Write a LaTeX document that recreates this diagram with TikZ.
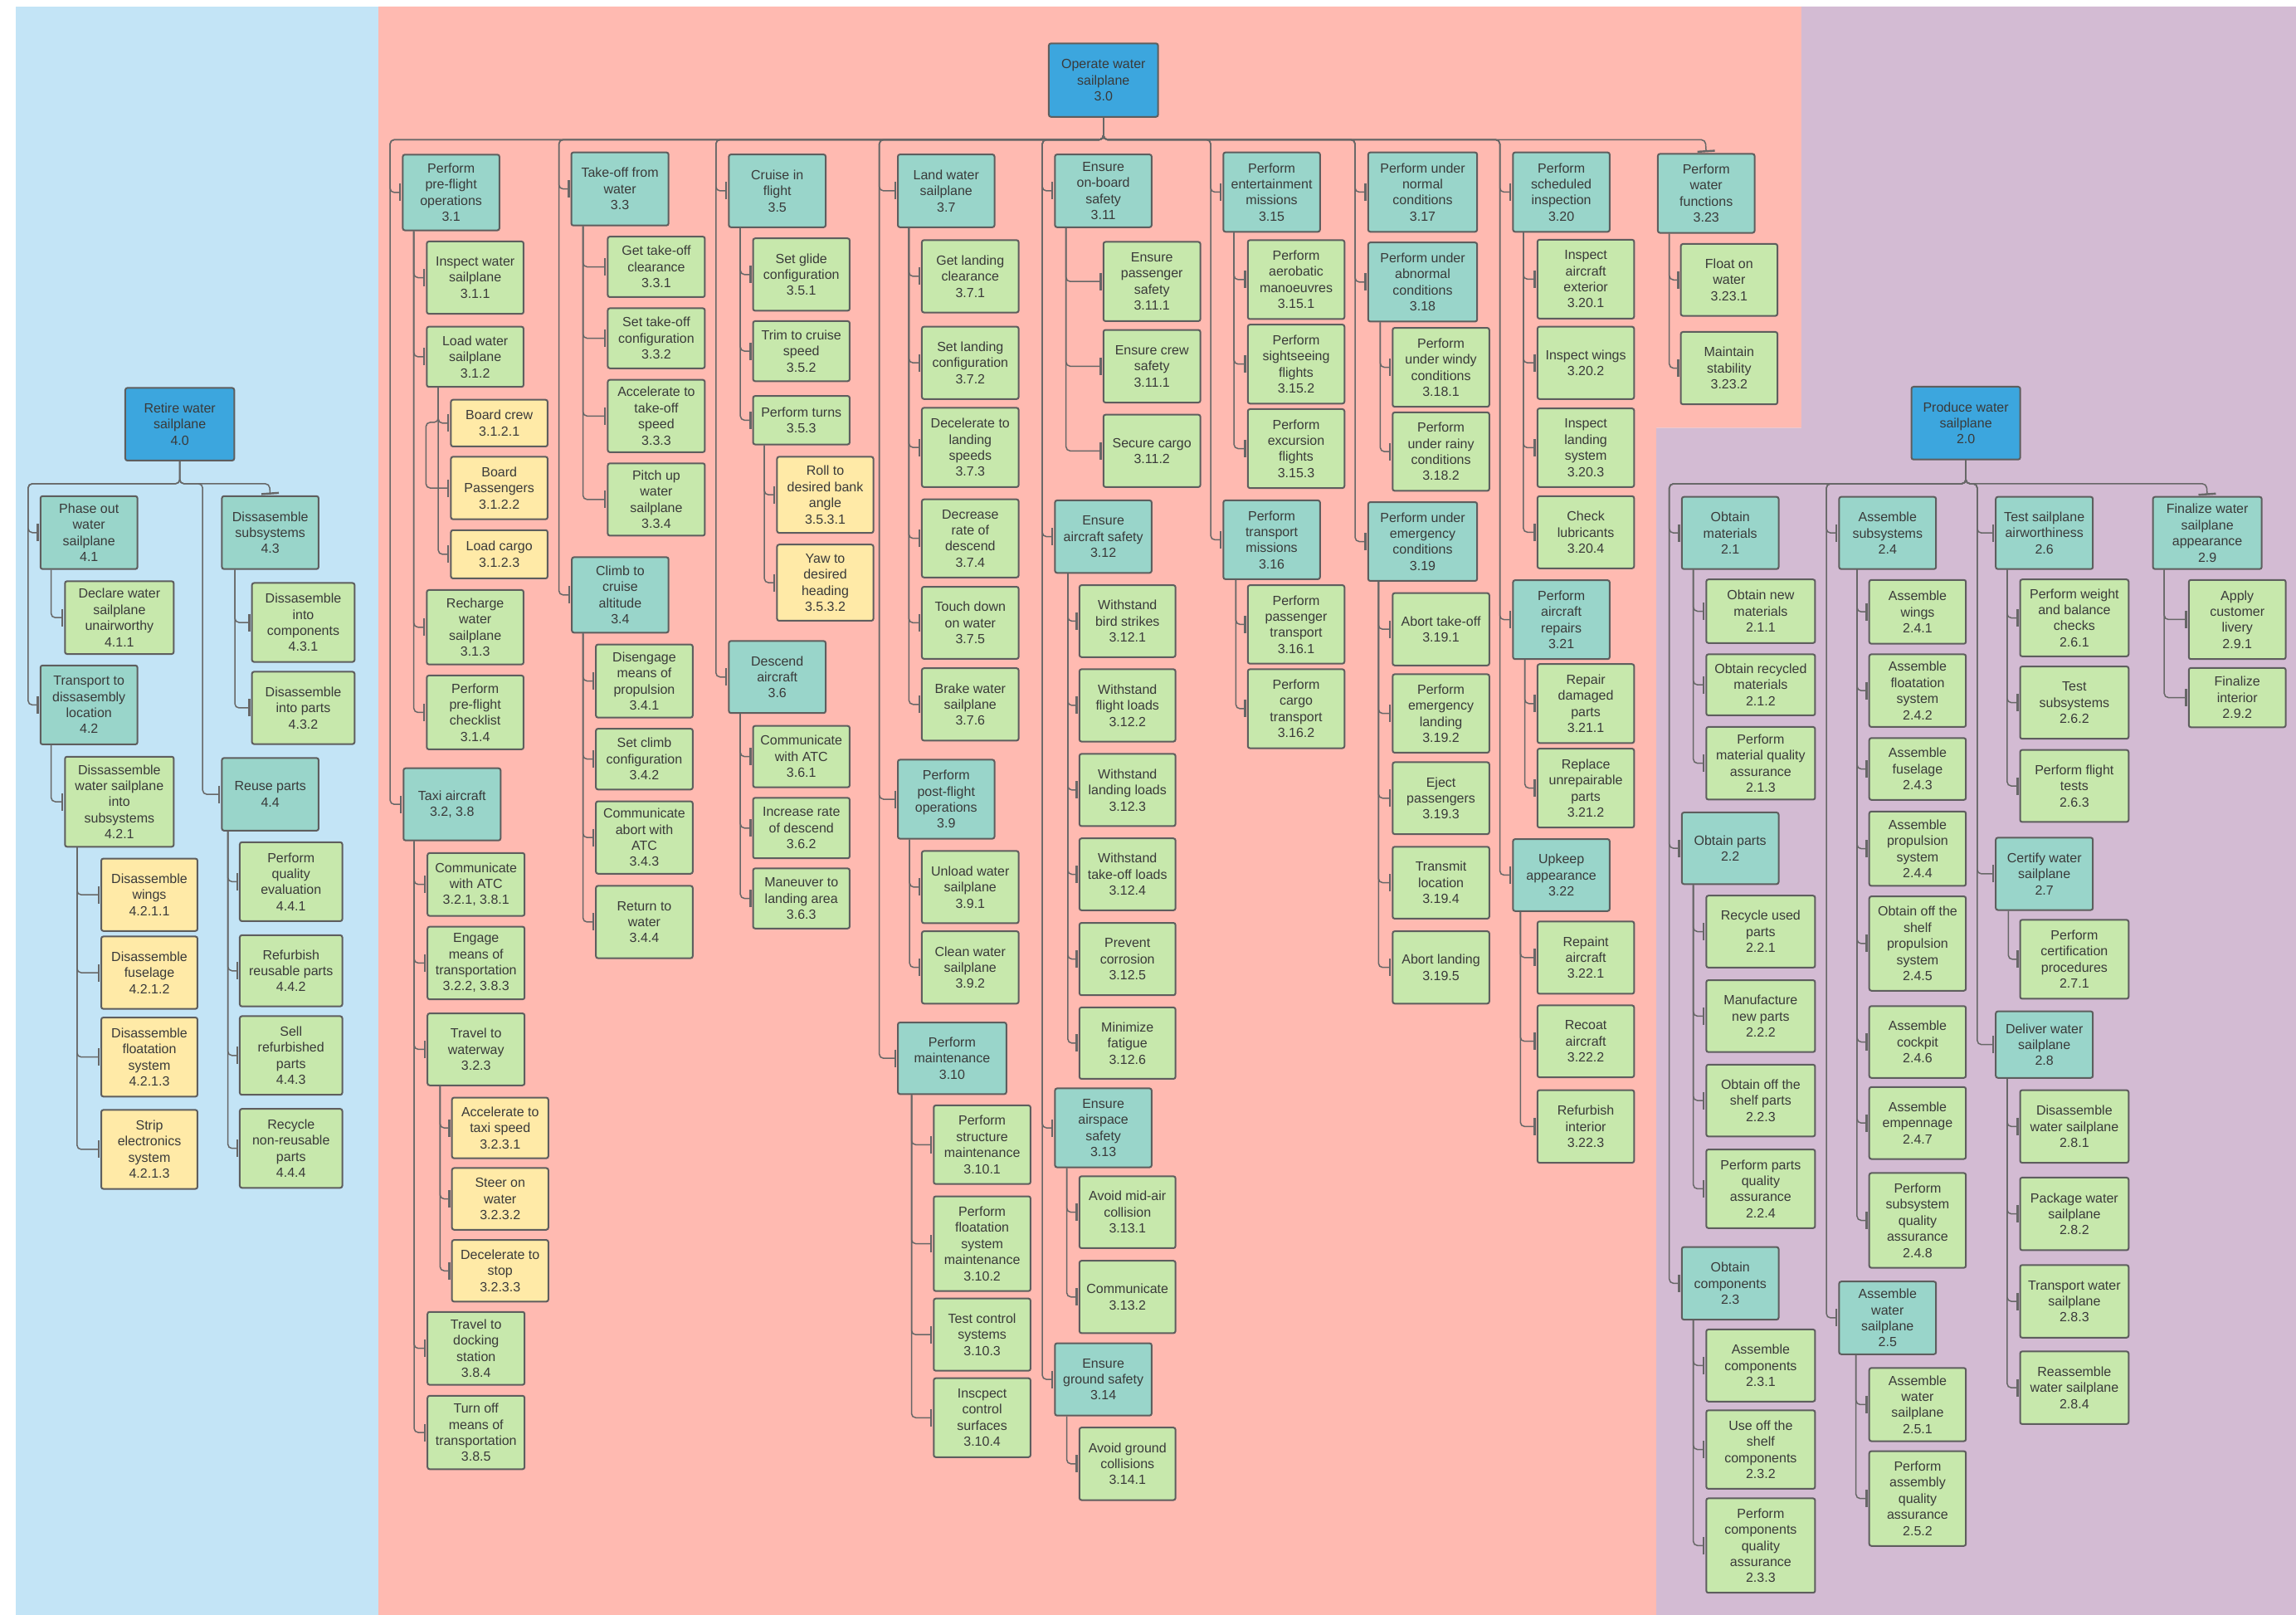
\documentclass[tikz,border=0pt]{standalone}
\usepackage{fontspec}
\setmainfont{Liberation Sans}
\usetikzlibrary{arrows.meta}
\definecolor{bgb}{HTML}{C3E4F6}
\definecolor{bgr}{HTML}{FFBAB1}
\definecolor{bgp}{HTML}{D3BBD3}
\definecolor{rootc}{HTML}{3CA6DE}
\definecolor{tealc}{HTML}{99D5CA}
\definecolor{grnc}{HTML}{C7E8AC}
\definecolor{yelc}{HTML}{FFEAA7}
\definecolor{bord}{HTML}{5E5E5E}
\definecolor{txt}{HTML}{3A3A3A}
\definecolor{connc}{HTML}{676767}
\tikzset{
  box/.style={draw=bord, line width=2pt, rounded corners=2.5pt, inner sep=0pt, align=center, text=txt, font=\fontsize{16}{19.4}\selectfont},
  rt/.style={box, fill=rootc},
  tl/.style={box, fill=tealc},
  gr/.style={box, fill=grnc},
  yl/.style={box, fill=yelc},
  conn/.style={draw=connc, line width=1.5pt, rounded corners=5pt, shorten >=1pt, -{Bar[width=21pt, line width=2.4pt]}},
}
\newcommand\wbox[7]{\pgfmathsetmacro\wbw{(#5-#3)*1.7647}\pgfmathsetmacro\wbh{(#6-#4)*1.7647}\node[#1, anchor=north west, minimum width=\wbw pt, minimum height=\wbh pt] (#2) at (#3,#4) {#7};}
\newcommand\kids[3]{\foreach \cn in {#3}{\draw[conn] ([xshift=#2*1.7647pt]#1.south west) |- (\cn.west);}}
\newcommand\lvl[4]{\foreach \cn in {#4}{\draw[conn] (#1.south) |- (#2,#3) |- (\cn.west);}}
\begin{document}
\begin{tikzpicture}[x=1.7647pt, y=-1.7647pt]
\useasboundingbox (0,0) rectangle (1568,1102.7);
\fill[white] (0,0) rectangle (1568,1102.7);
% regions
\fill[bgb] (10.9,4.5) rectangle (258.5,1102.7);
\fill[bgr] (258.5,4.5) -- (1230.2,4.5) -- (1230.2,292.2) -- (1131.1,292.2) -- (1131.1,1102.7) -- (258.5,1102.7) -- cycle;
\fill[bgp] (1230.2,4.5) -- (1568,4.5) -- (1568,1102.7) -- (1131.1,1102.7) -- (1131.1,292.2) -- (1230.2,292.2) -- cycle;

% ===== 4.0 =====
\wbox{rt}{r4}{85}{264.3}{159.4}{313.9}{Retire water\\sailplane\\4.0}
\wbox{tl}{n4_1}{27.1}{338.2}{93.3}{388}{Phase out\\water\\sailplane\\4.1}
\wbox{gr}{n4_1_1}{43.8}{396.3}{118.1}{446}{Declare water\\sailplane\\unairworthy\\4.1.1}
\wbox{tl}{n4_2}{27.1}{453.8}{93.3}{507.7}{Transport to\\dissasembly\\location\\4.2}
\wbox{gr}{n4_2_1}{43.8}{516.1}{118.1}{577.6}{Dissassemble\\water sailplane\\into\\subsystems\\4.2.1}
\wbox{yl}{n4_2_1_1}{68.6}{585.7}{134.3}{635.1}{Disassemble\\wings\\4.2.1.1}
\wbox{yl}{n4_2_1_2}{68.6}{638.9}{134.3}{688.3}{Disassemble\\fuselage\\4.2.1.2}
\wbox{yl}{n4_2_1_3}{68.6}{694.2}{134.3}{748.2}{Disassemble\\floatation\\system\\4.2.1.3}
\wbox{yl}{n4_2_1_4}{68.6}{757.3}{134.3}{811.2}{Strip\\electronics\\system\\4.2.1.3}
\wbox{tl}{n4_3}{151}{338.2}{217}{388}{Dissasemble\\subsystems\\4.3}
\wbox{gr}{n4_3_1}{171.5}{397.5}{241.6}{451.4}{Dissasemble\\into\\components\\4.3.1}
\wbox{gr}{n4_3_2}{171.5}{458.1}{241.6}{507.5}{Disassemble\\into parts\\4.3.2}
\wbox{tl}{n4_4}{151}{517}{217}{566.6}{Reuse parts\\4.4}
\wbox{gr}{n4_4_1}{163.2}{574.5}{233.2}{628.4}{Perform\\quality\\evaluation\\4.4.1}
\wbox{gr}{n4_4_2}{163.2}{638}{233.2}{686.6}{Refurbish\\reusable parts\\4.4.2}
\wbox{gr}{n4_4_3}{163.2}{693.3}{233.2}{747}{Sell\\refurbished\\parts\\4.4.3}
\wbox{gr}{n4_4_4}{163.2}{756.6}{233.2}{810.5}{Recycle\\non-reusable\\parts\\4.4.4}

% ===== 3.0 =====
\wbox{rt}{r3}{715.7}{29.1}{790.3}{79.2}{Operate water\\sailplane\\3.0}
% col 1
\wbox{tl}{n3_1}{274.5}{105}{340.5}{156.7}{Perform\\pre-flight\\operations\\3.1}
\wbox{gr}{n3_1_1}{290.9}{164.3}{357}{213.7}{Inspect water\\sailplane\\3.1.1}
\wbox{gr}{n3_1_2}{290.9}{222.5}{357}{263.6}{Load water\\sailplane\\3.1.2}
\wbox{yl}{n3_1_2_1}{307.4}{272.4}{373.4}{304.3}{Board crew\\3.1.2.1}
\wbox{yl}{n3_1_2_2}{307.4}{311.3}{373.4}{354}{Board\\Passengers\\3.1.2.2}
\wbox{yl}{n3_1_2_3}{307.4}{361.4}{373.4}{394.4}{Load cargo\\3.1.2.3}
\wbox{gr}{n3_1_3}{290.9}{402.3}{357}{453.1}{Recharge\\water\\sailplane\\3.1.3}
\wbox{gr}{n3_1_4}{290.9}{460.7}{357}{511.1}{Perform\\pre-flight\\checklist\\3.1.4}
\wbox{tl}{n3_2}{275}{524}{341.3}{573.3}{Taxi aircraft\\3.2, 3.8}
\wbox{gr}{n3_2_1}{291.4}{581.9}{357.7}{624.8}{Communicate\\with ATC\\3.2.1, 3.8.1}
\wbox{gr}{n3_2_2}{291.4}{632.2}{357.7}{681.8}{Engage\\means of\\transportation\\3.2.2, 3.8.3}
\wbox{gr}{n3_2_3}{291.4}{691.4}{357.7}{740.5}{Travel to\\waterway\\3.2.3}
\wbox{yl}{n3_2_3_1}{308.1}{748.9}{373.9}{790.3}{Accelerate to\\taxi speed\\3.2.3.1}
\wbox{yl}{n3_2_3_2}{308.1}{797}{373.9}{839.1}{Steer on\\water\\3.2.3.2}
\wbox{yl}{n3_2_3_3}{308.1}{846.1}{373.9}{888.2}{Decelerate to\\stop\\3.2.3.3}
\wbox{gr}{n3_8_4}{291.4}{895.2}{357.7}{945}{Travel to\\docking\\station\\3.8.4}
\wbox{gr}{n3_8_5}{291.4}{952.5}{357.7}{1002.6}{Turn off\\means of\\transportation\\3.8.5}
% col 2
\wbox{tl}{n3_3}{389.6}{103.5}{456}{153.4}{Take-off from\\water\\3.3}
\wbox{gr}{n3_3_1}{414.5}{161}{480.8}{202.3}{Get take-off\\clearance\\3.3.1}
\wbox{gr}{n3_3_2}{414.5}{209.9}{480.8}{250.9}{Set take-off\\configuration\\3.3.2}
\wbox{gr}{n3_3_3}{414.5}{258.8}{480.8}{308.2}{Accelerate to\\take-off\\speed\\3.3.3}
\wbox{gr}{n3_3_4}{414.5}{315.8}{480.8}{365.2}{Pitch up\\water\\sailplane\\3.3.4}
\wbox{tl}{n3_4}{390}{379.9}{456}{431.4}{Climb to\\cruise\\altitude\\3.4}
\wbox{gr}{n3_4_1}{406.4}{439.5}{472.5}{489.4}{Disengage\\means of\\propulsion\\3.4.1}
\wbox{gr}{n3_4_2}{406.4}{497}{472.5}{538.5}{Set climb\\configuration\\3.4.2}
\wbox{gr}{n3_4_3}{406.4}{546.6}{472.5}{596}{Communicate\\abort with\\ATC\\3.4.3}
\wbox{gr}{n3_4_4}{406.4}{604.3}{472.5}{653.7}{Return to\\water\\3.4.4}
% col 3
\wbox{tl}{n3_5}{497.2}{104.9}{563.3}{154.6}{Cruise in\\flight\\3.5}
\wbox{gr}{n3_5_1}{513.7}{162.2}{579.7}{211.6}{Set glide\\configuration\\3.5.1}
\wbox{gr}{n3_5_2}{513.7}{218.7}{579.7}{259.7}{Trim to cruise\\speed\\3.5.2}
\wbox{gr}{n3_5_3}{513.7}{269.8}{579.7}{302.9}{Perform turns\\3.5.3}
\wbox{yl}{n3_5_3_1}{530.1}{311.3}{595.9}{363.3}{Roll to\\desired bank\\angle\\3.5.3.1}
\wbox{yl}{n3_5_3_2}{530.1}{371.3}{595.9}{423.3}{Yaw to\\desired\\heading\\3.5.3.2}
\wbox{tl}{n3_6}{497.2}{437.1}{563.3}{486.3}{Descend\\aircraft\\3.6}
\wbox{gr}{n3_6_1}{513.7}{495.1}{579.7}{537}{Communicate\\with ATC\\3.6.1}
\wbox{gr}{n3_6_2}{513.7}{544.2}{579.7}{585.5}{Increase rate\\of descend\\3.6.2}
\wbox{gr}{n3_6_3}{513.7}{592.4}{579.7}{633.4}{Maneuver to\\landing area\\3.6.3}
% col 4
\wbox{tl}{n3_7}{612.6}{104.9}{678.6}{154.6}{Land water\\sailplane\\3.7}
\wbox{gr}{n3_7_1}{629}{163.4}{695.1}{212.8}{Get landing\\clearance\\3.7.1}
\wbox{gr}{n3_7_2}{629}{222.5}{695.1}{271.9}{Set landing\\configuration\\3.7.2}
\wbox{gr}{n3_7_3}{629}{277.9}{695.1}{332}{Decelerate to\\landing\\speeds\\3.7.3}
\wbox{gr}{n3_7_4}{629}{340.4}{695.1}{393.7}{Decrease\\rate of\\descend\\3.7.4}
\wbox{gr}{n3_7_5}{629}{400.1}{695.1}{449.3}{Touch down\\on water\\3.7.5}
\wbox{gr}{n3_7_6}{629}{455.7}{695.1}{505.1}{Brake water\\sailplane\\3.7.6}
\wbox{tl}{n3_9}{612.6}{518.2}{678.6}{572.1}{Perform\\post-flight\\operations\\3.9}
\wbox{gr}{n3_9_1}{629}{580.5}{695.1}{629.8}{Unload water\\sailplane\\3.9.1}
\wbox{gr}{n3_9_2}{629}{635.3}{695.1}{684.7}{Clean water\\sailplane\\3.9.2}
\wbox{tl}{n3_10}{612.6}{697.6}{686.7}{746.5}{Perform\\maintenance\\3.10}
\wbox{gr}{n3_10_1}{637.1}{754.2}{703.2}{807.9}{Perform\\structure\\maintenance\\3.10.1}
\wbox{gr}{n3_10_2}{637.1}{816.3}{703.2}{881}{Perform\\floatation\\system\\maintenance\\3.10.2}
\wbox{gr}{n3_10_3}{637.1}{886.1}{703.2}{935.4}{Test control\\systems\\3.10.3}
\wbox{gr}{n3_10_4}{637.1}{940.5}{703.2}{994.4}{Inscpect\\control\\surfaces\\3.10.4}
% col 5
\wbox{tl}{n3_11}{719.9}{104.9}{785.9}{154.6}{Ensure\\on-board\\safety\\3.11}
\wbox{gr}{n3_11_1}{753}{164.6}{819.2}{218.7}{Ensure\\passenger\\safety\\3.11.1}
\wbox{gr}{n3_11_1b}{753}{224.7}{819.2}{274.3}{Ensure crew\\safety\\3.11.1}
\wbox{gr}{n3_11_2}{753}{282.6}{819.2}{332}{Secure cargo\\3.11.2}
\wbox{tl}{n3_12}{719.9}{341.1}{785.9}{390.6}{Ensure\\aircraft safety\\3.12}
\wbox{gr}{n3_12_1}{736.6}{399}{802.2}{448.1}{Withstand\\bird strikes\\3.12.1}
\wbox{gr}{n3_12_2}{736.6}{456.4}{802.2}{505.8}{Withstand\\flight loads\\3.12.2}
\wbox{gr}{n3_12_3}{736.6}{514.2}{802.2}{563.5}{Withstand\\landing loads\\3.12.3}
\wbox{gr}{n3_12_4}{736.6}{571.9}{802.2}{621}{Withstand\\take-off loads\\3.12.4}
\wbox{gr}{n3_12_5}{736.6}{629.6}{802.2}{679}{Prevent\\corrosion\\3.12.5}
\wbox{gr}{n3_12_6}{736.6}{687.3}{802.2}{736.1}{Minimize\\fatigue\\3.12.6}
\wbox{tl}{n3_13}{719.9}{742.6}{785.9}{796.5}{Ensure\\airspace\\safety\\3.13}
\wbox{gr}{n3_13_1}{736.6}{802.6}{802.2}{851.7}{Avoid mid-air\\collision\\3.13.1}
\wbox{gr}{n3_13_2}{736.6}{860.3}{802.2}{909.7}{Communicate\\3.13.2}
\wbox{tl}{n3_14}{719.9}{916.6}{785.9}{966}{Ensure\\ground safety\\3.14}
\wbox{gr}{n3_14_1}{736.6}{974.2}{802.2}{1023.7}{Avoid ground\\collisions\\3.14.1}
% col 6
\wbox{tl}{n3_15}{834.9}{103.5}{900.9}{157.7}{Perform\\entertainment\\missions\\3.15}
\wbox{gr}{n3_15_1}{851.6}{163.4}{917.6}{217.3}{Perform\\aerobatic\\manoeuvres\\3.15.1}
\wbox{gr}{n3_15_2}{851.6}{221.1}{917.6}{275}{Perform\\sightseeing\\flights\\3.15.2}
\wbox{gr}{n3_15_3}{851.6}{278.8}{917.6}{332.7}{Perform\\excursion\\flights\\3.15.3}
\wbox{tl}{n3_16}{834.9}{341.1}{900.9}{394.9}{Perform\\transport\\missions\\3.16}
\wbox{gr}{n3_16_1}{851.6}{399}{917.6}{452.6}{Perform\\passenger\\transport\\3.16.1}
\wbox{gr}{n3_16_2}{851.6}{456.4}{917.6}{510.3}{Perform\\cargo\\transport\\3.16.2}
% col 7
\wbox{tl}{n3_17}{933.8}{103.5}{1008.2}{157.7}{Perform under\\normal\\conditions\\3.17}
\wbox{tl}{n3_18}{933.8}{165}{1008.2}{219}{Perform under\\abnormal\\conditions\\3.18}
\wbox{gr}{n3_18_1}{950.5}{223.3}{1016.5}{277.2}{Perform\\under windy\\conditions\\3.18.1}
\wbox{gr}{n3_18_2}{950.5}{281}{1016.5}{334.6}{Perform\\under rainy\\conditions\\3.18.2}
\wbox{tl}{n3_19}{933.8}{342.3}{1008.2}{396.1}{Perform under\\emergency\\conditions\\3.19}
\wbox{gr}{n3_19_1}{950.5}{404.4}{1016.5}{453.8}{Abort take-off\\3.19.1}
\wbox{gr}{n3_19_2}{950.5}{459.8}{1016.5}{513.4}{Perform\\emergency\\landing\\3.19.2}
\wbox{gr}{n3_19_3}{950.5}{519.9}{1016.5}{569}{Eject\\passengers\\3.19.3}
\wbox{gr}{n3_19_4}{950.5}{577.6}{1016.5}{626.7}{Transmit\\location\\3.19.4}
\wbox{gr}{n3_19_5}{950.5}{635.3}{1016.5}{684.7}{Abort landing\\3.19.5}
% col 8
\wbox{tl}{n3_20}{1032.7}{103.5}{1098.7}{157.7}{Perform\\scheduled\\inspection\\3.20}
\wbox{gr}{n3_20_1}{1049.4}{163.1}{1115.4}{217}{Inspect\\aircraft\\exterior\\3.20.1}
\wbox{gr}{n3_20_2}{1049.4}{222.5}{1115.4}{271.9}{Inspect wings\\3.20.2}
\wbox{gr}{n3_20_3}{1049.4}{278.3}{1115.4}{332}{Inspect\\landing\\system\\3.20.3}
\wbox{gr}{n3_20_4}{1049.4}{338.2}{1115.4}{387.5}{Check\\lubricants\\3.20.4}
\wbox{tl}{n3_21}{1032.7}{395.6}{1098.7}{449.5}{Perform\\aircraft\\repairs\\3.21}
\wbox{gr}{n3_21_1}{1049.4}{452.9}{1115.4}{506.8}{Repair\\damaged\\parts\\3.21.1}
\wbox{gr}{n3_21_2}{1049.4}{510.6}{1115.4}{564.5}{Replace\\unrepairable\\parts\\3.21.2}
\wbox{tl}{n3_22}{1032.7}{572.4}{1098.7}{621.5}{Upkeep\\appearance\\3.22}
\wbox{gr}{n3_22_1}{1049.4}{628.6}{1115.4}{678}{Repaint\\aircraft\\3.22.1}
\wbox{gr}{n3_22_2}{1049.4}{685.9}{1115.4}{735}{Recoat\\aircraft\\3.22.2}
\wbox{gr}{n3_22_3}{1049.4}{743.8}{1115.4}{793.4}{Refurbish\\interior\\3.22.3}
% col 9
\wbox{tl}{n3_23}{1131.6}{104.5}{1197.7}{158.4}{Perform\\water\\functions\\3.23}
\wbox{gr}{n3_23_1}{1147.3}{166}{1213.3}{215.1}{Float on\\water\\3.23.1}
\wbox{gr}{n3_23_2}{1147.3}{226.1}{1213.3}{275.5}{Maintain\\stability\\3.23.2}

% ===== 2.0 =====
\wbox{rt}{r2}{1304.8}{263.5}{1379.1}{313.2}{Produce water\\sailplane\\2.0}
\wbox{tl}{n2_1}{1148}{338.7}{1214.1}{388}{Obtain\\materials\\2.1}
\wbox{gr}{n2_1_1}{1164.7}{395.1}{1239}{438.5}{Obtain new\\materials\\2.1.1}
\wbox{gr}{n2_1_2}{1164.7}{446.2}{1239}{487.9}{Obtain recycled\\materials\\2.1.2}
\wbox{gr}{n2_1_3}{1164.7}{495.8}{1239}{545.4}{Perform\\material quality\\assurance\\2.1.3}
\wbox{tl}{n2_2}{1148}{554.2}{1214.1}{603.1}{Obtain parts\\2.2}
\wbox{gr}{n2_2_1}{1164.7}{611}{1239}{660.1}{Recycle used\\parts\\2.2.1}
\wbox{gr}{n2_2_2}{1164.7}{668.7}{1239}{717.8}{Manufacture\\new parts\\2.2.2}
\wbox{gr}{n2_2_3}{1164.7}{726.4}{1239}{775.4}{Obtain off the\\shelf parts\\2.2.3}
\wbox{gr}{n2_2_4}{1164.7}{784.3}{1239}{838}{Perform parts\\quality\\assurance\\2.2.4}
\wbox{tl}{n2_3}{1148}{850.9}{1214.1}{900.5}{Obtain\\components\\2.3}
\wbox{gr}{n2_3_1}{1164.7}{907.2}{1239}{956.4}{Assemble\\components\\2.3.1}
\wbox{gr}{n2_3_2}{1164.7}{962.4}{1239}{1016}{Use off the\\shelf\\components\\2.3.2}
\wbox{gr}{n2_3_3}{1164.7}{1022.5}{1239}{1087}{Perform\\components\\quality\\assurance\\2.3.3}
\wbox{tl}{n2_4}{1255.4}{338.7}{1321.6}{388}{Assemble\\subsystems\\2.4}
\wbox{gr}{n2_4_1}{1276}{395.4}{1342}{439}{Assemble\\wings\\2.4.1}
\wbox{gr}{n2_4_2}{1276}{446.2}{1342}{495.8}{Assemble\\floatation\\system\\2.4.2}
\wbox{gr}{n2_4_3}{1276}{503.4}{1342}{545.6}{Assemble\\fuselage\\2.4.3}
\wbox{gr}{n2_4_4}{1276}{553.5}{1342}{604.3}{Assemble\\propulsion\\system\\2.4.4}
\wbox{gr}{n2_4_5}{1276}{611.5}{1342}{675.9}{Obtain off the\\shelf\\propulsion\\system\\2.4.5}
\wbox{gr}{n2_4_6}{1276}{686.4}{1342}{735.4}{Assemble\\cockpit\\2.4.6}
\wbox{gr}{n2_4_7}{1276}{741.7}{1342}{790.8}{Assemble\\empennage\\2.4.7}
\wbox{gr}{n2_4_8}{1276}{800.4}{1342}{865.1}{Perform\\subsystem\\quality\\assurance\\2.4.8}
\wbox{tl}{n2_5}{1255.4}{874.5}{1321.6}{924.1}{Assemble\\water\\sailplane\\2.5}
\wbox{gr}{n2_5_1}{1276}{933.5}{1342}{983.5}{Assemble\\water\\sailplane\\2.5.1}
\wbox{gr}{n2_5_2}{1276}{990.3}{1342}{1055}{Perform\\assembly\\quality\\assurance\\2.5.2}
\wbox{tl}{n2_6}{1362.4}{338.7}{1428.7}{388}{Test sailplane\\airworthiness\\2.6}
\wbox{gr}{n2_6_1}{1379}{395.1}{1453.1}{447.6}{Perform weight\\and balance\\checks\\2.6.1}
\wbox{gr}{n2_6_2}{1379}{454.5}{1453.1}{503.9}{Test\\subsystems\\2.6.2}
\wbox{gr}{n2_6_3}{1379}{511.5}{1453.1}{560.7}{Perform flight\\tests\\2.6.3}
\wbox{tl}{n2_7}{1362.4}{571.4}{1428.7}{620.8}{Certify water\\sailplane\\2.7}
\wbox{gr}{n2_7_1}{1379}{627.5}{1453.1}{681.4}{Perform\\certification\\procedures\\2.7.1}
\wbox{tl}{n2_8}{1362.4}{690}{1428.7}{735.4}{Deliver water\\sailplane\\2.8}
\wbox{gr}{n2_8_1}{1379}{743.8}{1453.1}{793.4}{Disassemble\\water sailplane\\2.8.1}
\wbox{gr}{n2_8_2}{1379}{803.5}{1453.1}{853.1}{Package water\\sailplane\\2.8.2}
\wbox{gr}{n2_8_3}{1379}{863.2}{1453.1}{912.8}{Transport water\\sailplane\\2.8.3}
\wbox{gr}{n2_8_4}{1379}{922.2}{1453.1}{971.8}{Reassemble\\water sailplane\\2.8.4}
\wbox{tl}{n2_9}{1469.7}{338.7}{1544}{388}{Finalize water\\sailplane\\appearance\\2.9}
\wbox{gr}{n2_9_1}{1494.2}{395.4}{1560.4}{449.5}{Apply\\customer\\livery\\2.9.1}
\wbox{gr}{n2_9_2}{1494.2}{455.5}{1560.4}{496}{Finalize\\interior\\2.9.2}

% ===== connectors =====
% 4.0
\lvl{r4}{19.2}{330.3}{n4_1,n4_2}
\lvl{r4}{138.4}{330.3}{n4_4}
\draw[conn] (r4.south) |- (184,330.3) -- (n4_3.north);
\kids{n4_1}{7.8}{n4_1_1}
\kids{n4_2}{7.8}{n4_2_1}
\kids{n4_2_1}{8.8}{n4_2_1_1,n4_2_1_2,n4_2_1_3,n4_2_1_4}
\kids{n4_3}{9.4}{n4_3_1,n4_3_2}
\kids{n4_4}{4.6}{n4_4_1,n4_4_2,n4_4_3,n4_4_4}
% 3.0
\lvl{r3}{266.4}{95.4}{n3_1,n3_2}
\lvl{r3}{381.7}{95.4}{n3_3,n3_4}
\lvl{r3}{488.9}{95.4}{n3_5,n3_6}
\lvl{r3}{600.5}{95.4}{n3_7,n3_9,n3_10}
\lvl{r3}{711.8}{95.4}{n3_11,n3_12,n3_13,n3_14}
\lvl{r3}{826.8}{95.4}{n3_15,n3_16}
\lvl{r3}{925.4}{95.4}{n3_17,n3_18,n3_19}
\lvl{r3}{1024.3}{95.4}{n3_20,n3_21,n3_22}
\draw[conn] (r3.south) |- (1164.65,95.4) -- (n3_23.north);
\kids{n3_1}{8.1}{n3_1_1,n3_1_2,n3_1_3,n3_1_4}
\kids{n3_1_2}{8.4}{n3_1_2_1,n3_1_2_3}
\draw[conn] ([xshift=8.4*1.7647pt]n3_1_2.south west) |- (290.9,288.4) |- (n3_1_2_2.west);
\kids{n3_2}{7.8}{n3_2_1,n3_2_2,n3_2_3,n3_8_4,n3_8_5}
\kids{n3_2_3}{9.1}{n3_2_3_1,n3_2_3_2,n3_2_3_3}
\kids{n3_3}{8.5}{n3_3_1,n3_3_2,n3_3_3,n3_3_4}
\kids{n3_4}{8.1}{n3_4_1,n3_4_2,n3_4_3,n3_4_4}
\kids{n3_5}{8.4}{n3_5_1,n3_5_2,n3_5_3}
\kids{n3_5_3}{8.3}{n3_5_3_1,n3_5_3_2}
\kids{n3_6}{8.4}{n3_6_1,n3_6_2,n3_6_3}
\kids{n3_7}{8.1}{n3_7_1,n3_7_2,n3_7_3,n3_7_4,n3_7_5,n3_7_6}
\kids{n3_9}{8.6}{n3_9_1,n3_9_2}
\kids{n3_10}{9.9}{n3_10_1,n3_10_2,n3_10_3,n3_10_4}
\kids{n3_11}{8.1}{n3_11_1,n3_11_1b,n3_11_2}
\kids{n3_12}{9.3}{n3_12_1,n3_12_2,n3_12_3,n3_12_4,n3_12_5,n3_12_6}
\kids{n3_13}{8.6}{n3_13_1,n3_13_2}
\kids{n3_14}{8.6}{n3_14_1}
\kids{n3_15}{7.8}{n3_15_1,n3_15_2,n3_15_3}
\kids{n3_16}{9.1}{n3_16_1,n3_16_2}
\kids{n3_18}{8.8}{n3_18_1,n3_18_2}
\kids{n3_19}{7.6}{n3_19_1,n3_19_2,n3_19_3,n3_19_4,n3_19_5}
\kids{n3_20}{7.6}{n3_20_1,n3_20_2,n3_20_3,n3_20_4}
\kids{n3_21}{8.6}{n3_21_1,n3_21_2}
\kids{n3_22}{5.6}{n3_22_1,n3_22_2,n3_22_3}
\kids{n3_23}{8.4}{n3_23_1,n3_23_2}
% 2.0
\lvl{r2}{1140}{330.3}{n2_1,n2_2,n2_3}
\lvl{r2}{1247.3}{330.3}{n2_4,n2_5}
\lvl{r2}{1350.3}{330.3}{n2_6,n2_7,n2_8}
\draw[conn] (r2.south) |- (1506.85,330.3) -- (n2_9.north);
\kids{n2_1}{8.4}{n2_1_1,n2_1_2,n2_1_3}
\kids{n2_2}{8.4}{n2_2_1,n2_2_2,n2_2_3,n2_2_4}
\kids{n2_3}{8.4}{n2_3_1,n2_3_2,n2_3_3}
\kids{n2_4}{12.8}{n2_4_1,n2_4_2,n2_4_3,n2_4_4,n2_4_5,n2_4_6,n2_4_7,n2_4_8}
\kids{n2_5}{12.1}{n2_5_1,n2_5_2}
\kids{n2_6}{8.3}{n2_6_1,n2_6_2,n2_6_3}
\kids{n2_7}{9.1}{n2_7_1}
\kids{n2_8}{8.3}{n2_8_1,n2_8_2,n2_8_3,n2_8_4}
\kids{n2_9}{8.3}{n2_9_1,n2_9_2}
\end{tikzpicture}
\end{document}
